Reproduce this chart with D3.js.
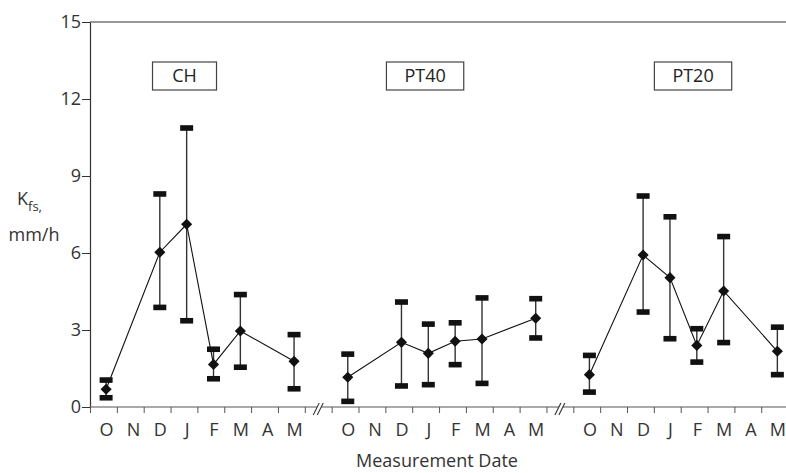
<!DOCTYPE html>
<html>
<head>
<meta charset="utf-8">
<script src="https://cdn.jsdelivr.net/npm/d3@7"></script>
<style>
  body { margin: 0; background: #fff; }
  svg { display: block; font-family: "Open Sans", "DejaVu Sans", sans-serif; }
</style>
</head>
<body>
<div id="chart"></div>
<script>
// months of each measurement season (Oct - May)
const months = ["O", "N", "D", "J", "F", "M", "A", "M"];
const sites = ["CH", "PT40", "PT20"];
const yTicks = [0, 3, 6, 9, 12, 15];

// Kfs, mm/h  (null = no measurement that month)
const chMean  = [0.69, null, 6.03, 7.12, 1.66, 2.96, null, 1.78];
const chUpper = [1.05, null, 8.30, 10.87, 2.25, 4.38, null, 2.82];
const chLower = [0.36, null, 3.88, 3.36, 1.10, 1.55, null, 0.71];

const pt40Mean  = [1.16, null, 2.52, 2.09, 2.56, 2.65, null, 3.46];
const pt40Upper = [2.06, null, 4.09, 3.23, 3.28, 4.25, null, 4.22];
const pt40Lower = [0.22, null, 0.82, 0.87, 1.65, 0.92, null, 2.69];

const pt20Mean  = [1.26, null, 5.92, 5.04, 2.40, 4.52, null, 2.17];
const pt20Upper = [2.01, null, 8.22, 7.41, 3.05, 6.64, null, 3.11];
const pt20Lower = [0.58, null, 3.70, 2.66, 1.75, 2.51, null, 1.26];

const means = [chMean, pt40Mean, pt20Mean];
const uppers = [chUpper, pt40Upper, pt20Upper];
const lowers = [chLower, pt40Lower, pt20Lower];

const W = 786, H = 473;
const mLeft = 90, mTop = 22, mBottom = 407;
const slot = 26.85;          // width of one month
const perPanel = 9;          // 8 months + 1 gap slot
const labelSlot = [3.52, 3.48, 4.46];

const svg = d3.select("#chart").append("svg")
  .attr("width", W)
  .attr("height", H);

const x = d3.scaleLinear().domain([0, 26]).range([mLeft, mLeft + 26 * slot]);
const y = d3.scaleLinear().domain([0, 15]).range([mBottom, mTop]);

const pos = (p, m) => x(p * perPanel + m + 0.6);

// top frame line
svg.append("line")
  .attr("x1", mLeft).attr("x2", W)
  .attr("y1", mTop).attr("y2", mTop)
  .attr("stroke", "#333").attr("stroke-width", 1.2);

// y axis
const yAxis = svg.append("g")
  .attr("transform", `translate(${mLeft},0)`)
  .call(d3.axisLeft(y).tickValues(yTicks).tickSize(8).tickSizeOuter(0).tickPadding(1));
yAxis.select(".domain").attr("stroke", "#333").attr("stroke-width", 1.2);
yAxis.selectAll(".tick line").attr("stroke", "#333");
yAxis.selectAll("text").attr("font-size", 18).attr("fill", "#333")
  .attr("font-family", "Open Sans");

// x axis: ticks at every slot
const xAxis = svg.append("g")
  .attr("transform", `translate(0,${mBottom})`)
  .call(d3.axisBottom(x).tickValues(d3.range(0, 27)).tickFormat("").tickSize(6).tickSizeOuter(0));
xAxis.select(".domain").attr("d", `M${mLeft},0H${W}`).attr("stroke", "#555").attr("stroke-width", 1.2);
xAxis.selectAll(".tick line").attr("stroke", "#555");

// month labels
const monthTicks = [], monthNames = {};
sites.forEach((s, p) => months.forEach((m, i) => {
  const v = p * perPanel + i + 0.6;
  monthTicks.push(v);
  monthNames[v] = m;
}));
const mAxis = svg.append("g")
  .attr("transform", `translate(0,${mBottom})`)
  .call(d3.axisBottom(x).tickValues(monthTicks).tickFormat(d => monthNames[d]).tickSize(0).tickPadding(16));
mAxis.select(".domain").remove();
mAxis.selectAll("text").attr("font-size", 18).attr("fill", "#333").attr("font-family", "Open Sans");

// axis breaks
[8.5, 17.5].forEach(b => {
  const cx = x(b);
  svg.append("polygon")
    .attr("points", `${cx - 5},${mBottom + 8} ${cx + 1},${mBottom - 4} ${cx + 5},${mBottom - 4} ${cx - 1},${mBottom + 8}`)
    .attr("fill", "#fff");
  [-2, 2].forEach(o => {
    svg.append("line")
      .attr("x1", cx + o - 3).attr("y1", mBottom + 8)
      .attr("x2", cx + o + 3).attr("y2", mBottom - 4)
      .attr("stroke", "#333").attr("stroke-width", 1.1);
  });
});

// site label boxes
sites.forEach((s, p) => {
  const cx = x(p * perPanel + labelSlot[p]);
  const g = svg.append("g");
  const t = g.append("text")
    .attr("x", cx).attr("y", 82)
    .attr("text-anchor", "middle")
    .attr("font-size", 18).attr("fill", "#222")
    .text(s);
  const w = Math.max(t.node().getComputedTextLength() + 36, 64);
  g.insert("rect", "text")
    .attr("x", cx - w / 2).attr("y", 62)
    .attr("width", w).attr("height", 28)
    .attr("fill", "#fff").attr("stroke", "#444").attr("stroke-width", 1.2);
});

// series
sites.forEach((s, p) => {
  const pts = months.map((m, i) => ({ i, v: means[p][i], hi: uppers[p][i], lo: lowers[p][i] }))
    .filter(d => d.v != null);
  const g = svg.append("g");

  g.selectAll(".stem").data(pts).enter().append("line")
    .attr("x1", d => pos(p, d.i)).attr("x2", d => pos(p, d.i))
    .attr("y1", d => y(d.lo)).attr("y2", d => y(d.hi))
    .attr("stroke", "#333").attr("stroke-width", 1.4);

  g.append("path").datum(pts)
    .attr("fill", "none").attr("stroke", "#111").attr("stroke-width", 1.1)
    .attr("d", d3.line().x(d => pos(p, d.i)).y(d => y(d.v)));

  g.selectAll(".cap").data(pts.flatMap(d => [{ i: d.i, v: d.hi }, { i: d.i, v: d.lo }]))
    .enter().append("rect")
    .attr("x", d => pos(p, d.i) - 6.5).attr("y", d => y(d.v) - 2.8)
    .attr("width", 13).attr("height", 5.6)
    .attr("fill", "#111");

  g.selectAll(".pt").data(pts).enter().append("path")
    .attr("d", d3.symbol(d3.symbolSquare, 62))
    .attr("transform", d => `translate(${pos(p, d.i)},${y(d.v)}) rotate(45)`)
    .attr("fill", "#111");
});

// axis titles
const yl = svg.append("text").attr("x", 17).attr("y", 205)
  .attr("font-size", 18).attr("fill", "#333");
yl.append("tspan").text("K");
yl.append("tspan").attr("dy", 6).attr("font-size", 13).text("fs,");
svg.append("text").attr("x", 34).attr("y", 241)
  .attr("text-anchor", "middle").attr("font-size", 18).attr("fill", "#333")
  .text("mm/h");

svg.append("text").attr("x", 437).attr("y", 467)
  .attr("text-anchor", "middle").attr("font-size", 18).attr("fill", "#333")
  .text("Measurement Date");
</script>
</body>
</html>
